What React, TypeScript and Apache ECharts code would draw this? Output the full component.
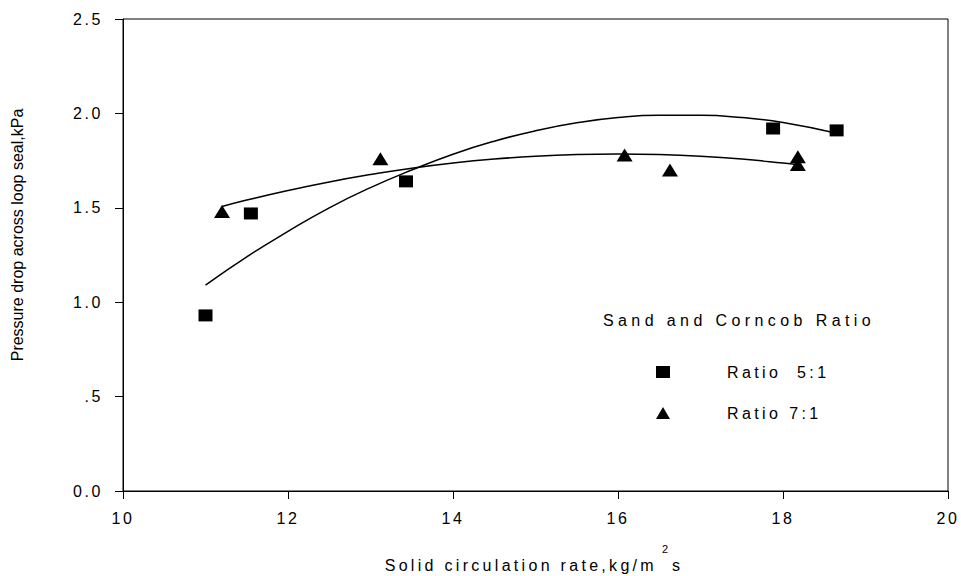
import React, { useEffect, useRef } from "react";
import * as echarts from "echarts";

const xTicks = [10, 12, 14, 16, 18, 20];
const yTickLabels = ["0.0", ".5", "1.0", "1.5", "2.0", "2.5"];

const ratio51X = [11.0, 11.55, 13.43, 17.88, 18.65];
const ratio51Y = [0.93, 1.47, 1.64, 1.92, 1.91];
const ratio71X = [11.2, 13.12, 16.08, 16.63, 18.18, 18.18];
const ratio71Y = [1.48, 1.76, 1.78, 1.70, 1.77, 1.73];

// fitted curves
const fit51X = [11.0, 11.5, 12, 12.5, 13, 13.5, 14, 14.5, 15, 15.5, 16, 16.5, 17, 17.5, 18, 18.65];
const fit51Y = [1.09, 1.24, 1.375, 1.50, 1.607, 1.70, 1.784, 1.853, 1.908, 1.95, 1.978, 1.99, 1.99, 1.978, 1.952, 1.895];
const fit71X = [11.2, 11.5, 12, 12.5, 13, 13.5, 14, 14.5, 15, 15.5, 16, 16.5, 17, 17.5, 18, 18.18];
const fit71Y = [1.507, 1.541, 1.592, 1.637, 1.676, 1.71, 1.737, 1.758, 1.773, 1.782, 1.785, 1.782, 1.773, 1.758, 1.737, 1.728];

const seriesNames = ["Ratio  5:1", "Ratio 7:1"];
const legendTitle = "Sand and Corncob Ratio";
const xTitleMain = "Solid circulation rate,kg/m";
const xTitleSup = "2";
const xTitleEnd = "s";
const yTitle = "Pressure drop across loop seal,kPa";

const zip = (xs: number[], ys: number[]) => xs.map((x, i) => [x, ys[i]]);

export default function App() {
  const ref = useRef<HTMLDivElement>(null);
  useEffect(() => {
    if (!ref.current) return;
    const chart = echarts.init(ref.current, null, { renderer: "svg" });
    const spaced = "Arial"; // ~2.6px letter spacing
    const title = "Arial, Verdana"; // ~3.3px letter spacing
    const wide = "Arial, Helvetica"; // ~4.4px letter spacing
    const entry = "Arial, Tahoma"; // ~3.4px letter spacing
    chart.setOption({
      animation: false,
      backgroundColor: "#ffffff",
      grid: {
        left: 123,
        top: 19,
        right: 13,
        bottom: 85,
        show: true,
        borderColor: "#000",
        borderWidth: 1,
      },
      xAxis: {
        type: "value",
        min: xTicks[0],
        max: xTicks[xTicks.length - 1],
        interval: 2,
        axisLine: { show: true, onZero: false, lineStyle: { color: "#000", width: 1 } },
        axisTick: { show: true, inside: false, length: 8, lineStyle: { color: "#000" } },
        splitLine: { show: false },
        axisLabel: {
          color: "#000",
          fontFamily: spaced,
          fontSize: 16,
          margin: 19,
        },
      },
      yAxis: {
        type: "value",
        min: 0,
        max: 2.5,
        interval: 0.5,
        axisLine: { show: true, onZero: false, lineStyle: { color: "#000", width: 1 } },
        axisTick: { show: true, inside: false, length: 8, lineStyle: { color: "#000" } },
        splitLine: { show: false },
        axisLabel: {
          color: "#000",
          fontFamily: spaced,
          fontSize: 16,
          margin: 20,
          formatter: (v: number) => yTickLabels[Math.round(v / 0.5)],
        },
      },
      legend: {
        data: [
          { name: seriesNames[0], icon: "rect", itemStyle: { opacity: 1, color: "#000" } },
          { name: seriesNames[1], icon: "triangle", itemStyle: { opacity: 1, color: "#000" } },
        ],
        orient: "vertical",
        left: 651,
        top: 359,
        itemWidth: 14,
        itemHeight: 12,
        itemGap: 25,
        formatter: "{a|{name}}",
        textStyle: {
          color: "#000",
          rich: {
            a: { fontFamily: entry, fontSize: 16, color: "#000", padding: [0, 0, 0, 52] },
          },
        },
      },
      graphic: [
        {
          type: "text",
          x: 603,
          y: 320,
          style: {
            text: legendTitle,
            fontFamily: wide,
            fontSize: 16,
            fill: "#000",
            align: "left",
            verticalAlign: "middle",
          },
        },
        {
          type: "text",
          x: 657,
          y: 565,
          style: {
            text: xTitleMain,
            fontFamily: title,
            fontSize: 16,
            fill: "#000",
            align: "right",
            verticalAlign: "middle",
          },
        },
        {
          type: "text",
          x: 665,
          y: 549,
          style: {
            text: xTitleSup,
            fontFamily: "Liberation Sans",
            fontSize: 11,
            fill: "#000",
            align: "center",
            verticalAlign: "middle",
          },
        },
        {
          type: "text",
          x: 672,
          y: 565,
          style: {
            text: xTitleEnd,
            fontFamily: "Liberation Sans",
            fontSize: 16,
            fill: "#000",
            align: "left",
            verticalAlign: "middle",
          },
        },
        {
          type: "text",
          x: 17,
          y: 235,
          rotation: Math.PI / 2,
          style: {
            text: yTitle,
            fontFamily: "Liberation Sans",
            fontSize: 16,
            fill: "#000",
            align: "center",
            verticalAlign: "middle",
          },
        },
      ],
      series: [
        {
          name: "fit51",
          type: "line",
          data: zip(fit51X, fit51Y),
          smooth: true,
          showSymbol: false,
          lineStyle: { color: "#000", width: 1.5 },
          z: 1,
        },
        {
          name: "fit71",
          type: "line",
          data: zip(fit71X, fit71Y),
          smooth: true,
          showSymbol: false,
          lineStyle: { color: "#000", width: 1.5 },
          z: 1,
        },
        {
          name: seriesNames[0],
          type: "scatter",
          data: zip(ratio51X, ratio51Y),
          symbol: "rect",
          symbolSize: [14, 12],
          itemStyle: { color: "#000", opacity: 1 },
          z: 3,
        },
        {
          name: seriesNames[1],
          type: "scatter",
          data: zip(ratio71X, ratio71Y),
          symbol: "triangle",
          symbolSize: [16, 13],
          itemStyle: { color: "#000", opacity: 1 },
          z: 3,
        },
      ],
    });
    return () => chart.dispose();
  }, []);
  return (
    <>
      <style>{`#chartbox text[style*="Arial"] { letter-spacing: 2.6px; white-space: pre; }
#chartbox text[style*="Verdana"] { letter-spacing: 3.3px; }
#chartbox text[style*="Helvetica"] { letter-spacing: 4.4px; }
#chartbox text[style*="Tahoma"] { letter-spacing: 3.4px; }`}</style>
      <div
        id="chartbox"
        ref={ref}
        style={{ position: "absolute", left: 0, top: 0, width: 961, height: 576 }}
      />
    </>
  );
}
